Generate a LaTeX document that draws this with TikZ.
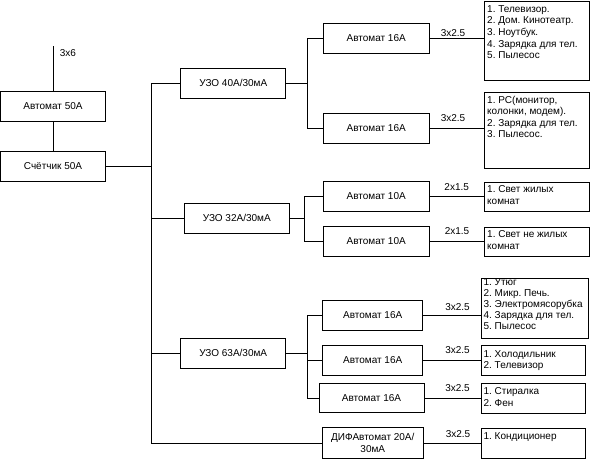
\documentclass[tikz,border=0pt]{standalone}
\usepackage{fontspec}
\setmainfont{Liberation Sans}
\frenchspacing
\newcommand{\lboxc}[4]{\parbox[c][#2][t]{#1}{\vspace*{#3}\raggedright #4}}
\begin{document}
\begin{tikzpicture}[x=1pt,y=-1pt,
  every node/.style={font=\fontsize{10}{11.6}\selectfont},
  wire/.style={line width=0.8pt, draw=black},
  box/.style={draw=black, line width=0.8pt, inner sep=0pt, align=center},
  lst/.style={draw=black, line width=0.8pt, inner xsep=2.5pt, inner ysep=0pt, anchor=north west},
  lbl/.style={inner sep=0pt}]
\useasboundingbox (0,0) rectangle (590,459);
% main chain
\node[box, minimum width=105pt, minimum height=30pt] (a50) at (53,106) {Автомат 50А};
\node[box, minimum width=105pt, minimum height=30pt] (cnt) at (53,166) {Счётчик 50А};
\coordinate (in) at (53,46);
\node[lbl] (l36) at (68,53.3) {3x6};
\draw[wire] (in) -- (a50.north);
\draw[wire] (a50.south) -- (cnt.north);
\coordinate (tr) at (151,166);
\draw[wire] (cnt.east) -- (tr);
% RCDs
\node[box, minimum width=105pt, minimum height=30pt] (u40) at (233.3,83.3) {УЗО 40А/30мА};
\node[box, minimum width=105pt, minimum height=30pt] (u32) at (236.8,218.3) {УЗО 32А/30мА};
\node[box, minimum width=105pt, minimum height=30pt] (u63) at (233.2,353.3) {УЗО 63А/30мА};
\node[box, minimum width=101pt, minimum height=30.5pt] (dif) at (372.8,443) {ДИФАвтомат 20А/\\30мА};
\coordinate (ttop) at (151,83.3);
\coordinate (tbot) at (151,443);
\draw[wire] (u40.west) -- (ttop) -- (tbot) -- (dif.west);
\draw[wire] (u32.west) -- (u32.west -| ttop);
\draw[wire] (u63.west) -- (u63.west -| ttop);
% breakers
\node[box, minimum width=105.7pt, minimum height=30pt] (a1) at (376.2,38.3) {Автомат 16А};
\node[box, minimum width=105.7pt, minimum height=30pt] (a2) at (376.2,128.3) {Автомат 16А};
\node[box, minimum width=105.7pt, minimum height=30pt] (b1) at (376.2,196) {Автомат 10А};
\node[box, minimum width=105.7pt, minimum height=30pt] (b2) at (376.2,241) {Автомат 10А};
\node[box, minimum width=100pt, minimum height=30pt] (c1) at (372.7,315) {Автомат 16А};
\node[box, minimum width=100pt, minimum height=30pt] (c2) at (372.7,360) {Автомат 16А};
\node[box, minimum width=105pt, minimum height=29.4pt] (c3) at (371.5,398) {Автомат 16А};
% branches
\coordinate (ba) at (307,83.3);
\draw[wire] (u40.east) -- (ba);
\draw[wire] (a1.west) -- (a1.west -| ba) -- (a2.west -| ba) -- (a2.west);
\coordinate (bb) at (304,218.3);
\draw[wire] (u32.east) -- (bb);
\draw[wire] (b1.west) -- (b1.west -| bb) -- (b2.west -| bb) -- (b2.west);
\coordinate (bc) at (307.3,353.3);
\draw[wire] (u63.east) -- (bc);
\draw[wire] (c1.west) -- (c1.west -| bc) -- (c3.west -| bc) -- (c3.west);
\draw[wire] (c2.west -| bc) -- (c2.west);
% lists
\node[lst] (L1) at (484.3,1) {\lboxc{99.4pt}{79pt}{2.8pt}{\strut 1. Телевизор.\\2. Дом. Кинотеатр.\\3. Ноутбук.\\4. Зарядка для тел.\\5. Пылесос}};
\node[lst] (L2) at (484.3,91.7) {\lboxc{99.4pt}{76.6pt}{2.8pt}{\strut 1. PC(монитор,\\колонки, модем).\\2. Зарядка для тел.\\3. Пылесос.}};
\node[lst] (L3) at (484.3,181.7) {\lboxc{99.4pt}{29.3pt}{2.6pt}{\strut 1. Свет жилых\\комнат}};
\node[lst] (L4) at (484.3,226.7) {\lboxc{99.4pt}{29.3pt}{2.6pt}{\strut 1. Свет не жилых\\комнат}};
\node[lst] (L5) at (480.7,278.3) {\lboxc{102.6pt}{60pt}{-1.2pt}{\fontsize{10}{11.1}\selectfont\strut 1. Утюг\\2. Микр. Печь.\\\mbox{3. Электромясорубка}\\4. Зарядка для тел.\\5. Пылесос}};
\node[lst] (L6) at (480.7,345) {\lboxc{99.3pt}{30pt}{3.5pt}{\strut 1. Холодильник\\2. Телевизор}};
\node[lst] (L7) at (480.7,383.3) {\lboxc{99.3pt}{29.4pt}{2.8pt}{\strut 1. Стиралка\\2. Фен}};
\node[lst] (L8) at (480.7,427.7) {\lboxc{99.3pt}{30.6pt}{3.5pt}{\strut 1. Кондиционер}};
% feeders
\draw[wire] (a1.east) -- (a1.east -| L1.west);
\draw[wire] (a2.east) -- (a2.east -| L2.west);
\draw[wire] (b1.east) -- (b1.east -| L3.west);
\draw[wire] (b2.east) -- (b2.east -| L4.west);
\draw[wire] (c1.east) -- (c1.east -| L5.west);
\draw[wire] (c2.east) -- (c2.east -| L6.west);
\draw[wire] (c3.east) -- (c3.east -| L7.west);
\draw[wire] (dif.east) -- (dif.east -| L8.west);
% cable labels
\node[lbl] (w1) at (453,32.7) {3x2.5};
\node[lbl] (w2) at (453,118.3) {3x2.5};
\node[lbl] (w3) at (456.7,187.3) {2x1.5};
\node[lbl] (w4) at (457,231) {2x1.5};
\node[lbl] (w5) at (457.5,306.7) {3x2.5};
\node[lbl] (w6) at (457.5,350) {3x2.5};
\node[lbl] (w7) at (457.5,388.3) {3x2.5};
\node[lbl] (w8) at (458,434.3) {3x2.5};
\end{tikzpicture}
\end{document}
